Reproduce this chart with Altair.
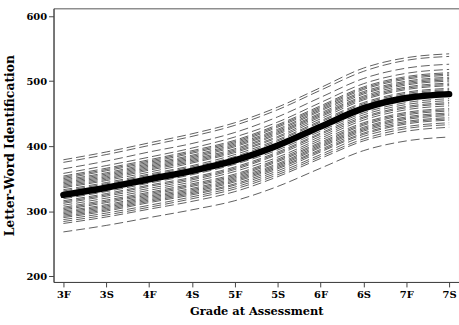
import altair as alt
import pandas as pd

grades = ["3F", "3S", "4F", "4S", "5F", "5S", "6F", "6S", "7F", "7S"]

mean_scores = [325, 336, 349, 362, 378, 401, 430, 458, 474, 480]

trajectories = [
    [379, 391, 405, 419, 436, 460, 490, 520, 536, 542],
    [375, 387, 401, 415, 432, 456, 486, 515, 532, 538],
    [365, 377, 391, 404, 421, 445, 475, 504, 520, 526],
    [358, 370, 383, 397, 414, 437, 467, 496, 512, 518],
    [354, 366, 379, 393, 409, 433, 462, 491, 507, 513],
    [352, 364, 377, 391, 407, 431, 460, 489, 505, 511],
    [350, 362, 375, 389, 405, 429, 458, 487, 503, 509],
    [348, 359, 373, 386, 403, 426, 456, 484, 500, 506],
    [346, 357, 371, 384, 401, 424, 454, 482, 498, 504],
    [344, 355, 369, 382, 399, 422, 451, 480, 496, 502],
    [342, 353, 367, 380, 396, 420, 449, 477, 494, 500],
    [340, 351, 365, 378, 394, 418, 447, 475, 491, 497],
    [338, 349, 363, 376, 392, 415, 445, 473, 489, 495],
    [336, 347, 360, 374, 390, 413, 442, 471, 487, 493],
    [333, 344, 357, 370, 387, 410, 439, 467, 483, 489],
    [331, 342, 355, 368, 384, 408, 437, 465, 481, 487],
    [329, 340, 353, 366, 382, 405, 434, 463, 479, 485],
    [327, 338, 351, 364, 380, 403, 432, 460, 476, 482],
    [322, 333, 346, 359, 375, 398, 427, 455, 471, 477],
    [319, 330, 343, 356, 372, 394, 423, 451, 467, 473],
    [316, 327, 340, 352, 368, 391, 420, 448, 464, 470],
    [314, 325, 338, 350, 366, 389, 418, 445, 461, 467],
    [312, 323, 335, 348, 364, 387, 415, 443, 459, 465],
    [309, 320, 332, 345, 361, 383, 412, 440, 456, 462],
    [306, 317, 329, 342, 357, 380, 409, 436, 452, 458],
    [304, 315, 327, 340, 355, 378, 406, 434, 450, 456],
    [302, 313, 325, 338, 353, 376, 404, 432, 448, 454],
    [300, 310, 323, 335, 351, 373, 402, 429, 445, 451],
    [298, 308, 321, 333, 349, 371, 400, 427, 443, 449],
    [296, 306, 319, 331, 347, 369, 398, 425, 441, 447],
    [294, 304, 317, 329, 345, 367, 395, 423, 438, 444],
    [292, 302, 315, 327, 342, 365, 393, 420, 436, 442],
    [290, 300, 313, 325, 340, 362, 391, 418, 434, 440],
    [287, 297, 309, 322, 337, 359, 387, 415, 430, 436],
    [284, 294, 306, 319, 334, 356, 384, 411, 427, 433],
    [281, 291, 303, 315, 330, 353, 381, 408, 423, 429],
    [268, 278, 290, 302, 316, 338, 366, 393, 408, 414],
]

y_ticks = [200, 300, 400, 500, 600]

rows = []
for i, traj in enumerate(trajectories):
    for g, v in zip(grades, traj):
        rows.append({"id": i, "grade": g, "score": v})
ind_df = pd.DataFrame(rows)
mean_df = pd.DataFrame({"grade": grades, "score": mean_scores})

FONT = "DejaVu Serif"

x_enc = alt.X(
    "grade:O",
    sort=grades,
    scale=alt.Scale(type="point", padding=0.23),
    axis=alt.Axis(
        title="Grade at Assessment",
        labelAngle=0,
        labelFont=FONT,
        labelFontWeight="bold",
        labelFontSize=10,
        labelColor="#000",
        labelPadding=3,
        titleFont=FONT,
        titleFontWeight="bold",
        titleFontSize=11.5,
        titleColor="#000",
        titlePadding=6,
        tickSize=5,
        tickColor="#444",
        domainColor="#444",
        grid=False,
    ),
)

y_scale = alt.Scale(domain=[191, 612], nice=False, zero=False)
y_axis = alt.Axis(
    title="Letter-Word Identification",
    values=y_ticks,
    labelFont=FONT,
    labelFontWeight="bold",
    labelFontSize=10,
    labelColor="#000",
    labelPadding=2,
    titleFont=FONT,
    titleFontWeight="bold",
    titleFontSize=12.5,
    titleColor="#000",
    titlePadding=9,
    tickSize=5,
    tickColor="#444",
    domainColor="#444",
    grid=False,
)

lines = alt.Chart(ind_df).mark_line(
    interpolate="monotone",
    color="#222",
    strokeWidth=0.85,
    strokeDash=[9, 4],
    opacity=0.85,
).encode(
    x=x_enc,
    y=alt.Y("score:Q", scale=y_scale, axis=y_axis),
    detail="id:N",
)

mean_line = alt.Chart(mean_df).mark_line(
    interpolate="monotone",
    color="#000",
    strokeWidth=6.5,
    strokeCap="round",
).encode(
    x=alt.X("grade:O", sort=grades),
    y=alt.Y("score:Q"),
)

chart = (
    alt.layer(lines, mean_line)
    .properties(
        width=409,
        height=276,
        autosize=alt.AutoSizeParams(type="none"),
        padding={"left": 54, "top": 7, "right": 0, "bottom": 42},
        background="white",
    )
    .configure_view(stroke="#555", strokeWidth=1)
)

chart.save("out.html", embed_options={"renderer": "svg", "actions": False})
